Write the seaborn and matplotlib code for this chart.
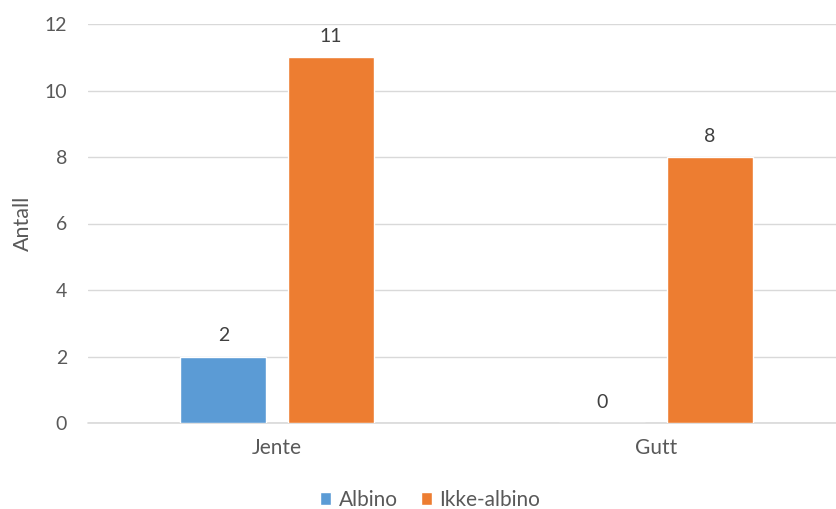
import matplotlib
matplotlib.use("Agg")
import matplotlib.pyplot as plt
import seaborn as sns
import pandas as pd

# Data
kjonn = ["Jente", "Gutt"]
albino = [2, 0]
ikke_albino = [11, 8]
serier = ["Albino", "Ikke-albino"]
farger = ["#5B9BD5", "#ED7D31"]

df = pd.DataFrame({
    "Kjønn": kjonn * 2,
    "Gruppe": [serier[0]] * len(kjonn) + [serier[1]] * len(kjonn),
    "Antall": albino + ikke_albino,
})

sns.set_theme(style="white")
plt.rcParams["font.family"] = ["Lato", "DejaVu Sans"]
txt = "#595959"

fig = plt.figure(figsize=(8.36, 5.09), dpi=100)
ax = fig.add_axes([88 / 836, 1 - 423 / 509, (836 - 88) / 836, (423 - 24) / 509])

sns.barplot(data=df, x="Kjønn", y="Antall", hue="Gruppe", order=kjonn,
            hue_order=serier, palette=farger, width=0.57, gap=0.2,
            saturation=1, ax=ax, legend=True)

ax.set_ylim(0, 12)
ax.set_yticks(range(0, 13, 2))
ax.set_xlim(-0.5, 1.476)
ax.grid(axis="y", color="#D9D9D9", linewidth=1)
ax.set_axisbelow(True)
for s in ax.spines.values():
    s.set_visible(False)
# category axis line along zero
ax.axhline(0, color="#D9D9D9", linewidth=1.2, zorder=0.5, clip_on=False)
ax.tick_params(axis="y", length=0, labelsize=14, colors=txt, pad=15)
ax.tick_params(axis="x", length=0, labelsize=15, colors=txt, pad=11)
ax.set_xlabel("")
ax.set_ylabel("Antall", fontsize=15.5, color=txt, labelpad=8)

for cont in ax.containers:
    ax.bar_label(cont, fmt="%d", padding=9, fontsize=14, color="#404040")

leg = ax.legend(loc="center", bbox_to_anchor=((430 - 88) / 748, -(500 - 423) / 399),
                ncol=2, frameon=False, fontsize=15, handlelength=0.55,
                handleheight=0.55, handletextpad=0.35, columnspacing=1.1)
for t in leg.get_texts():
    t.set_color(txt)

fig.savefig("out.png", dpi=100)
